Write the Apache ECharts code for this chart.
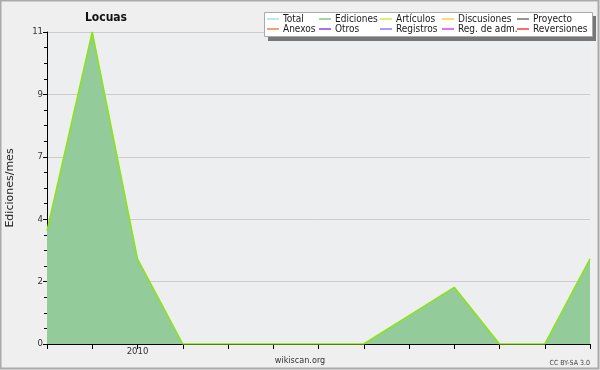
<!DOCTYPE html>
<html><head><meta charset="utf-8">
<script src="https://cdn.jsdelivr.net/npm/echarts@6/dist/echarts.min.js"></script>
<style>html,body{margin:0;padding:0;background:#efefef}#c{width:600px;height:370px}</style>
</head><body><div id="c"></div>
<script>
const months = ['2009-11','2009-12','2010-01','2010-02','2010-03','2010-04','2010-05','2010-06','2010-07','2010-08','2010-09','2010-10','2010-11'];
const ediciones = [4, 11, 3, 0, 0, 0, 0, 0, 1, 2, 0, 0, 3];
const yTicks = [0, 2.2, 4.4, 6.6, 8.8, 11];
const legendNames = [['Total','Anexos'],['Ediciones','Otros'],['Artículos','Registros'],['Discusiones','Reg. de adm.'],['Proyecto','Reversiones']];
const legendColors = {'Total':'#a0e4e4','Anexos':'#f08040','Ediciones':'#80c880','Otros':'#9040e0','Artículos':'#c8f040','Registros':'#8080ff','Discusiones':'#f8d040','Reg. de adm.':'#e040f0','Proyecto':'#707070','Reversiones':'#f04040'};
const colLeft = [267, 319, 380, 442, 517];
const FONT = '"DejaVu Sans Condensed", "DejaVu Sans", sans-serif';

const chart = echarts.init(document.getElementById('c'), null, {renderer:'canvas'});
const series = [];
const allNames = ['Total','Ediciones','Artículos','Discusiones','Proyecto','Anexos','Otros','Registros','Reg. de adm.','Reversiones'];
allNames.forEach(n => {
  if (n === 'Ediciones') {
    series.push({name:n, type:'line', data:ediciones, symbol:'none', color:legendColors[n],
      lineStyle:{width:0, color:'#93cb9a'}, areaStyle:{color:'#93cb9a', opacity:1}, z:2, silent:true});
  } else if (n === 'Artículos') {
    series.push({name:n, type:'line', data:ediciones, symbol:'none', color:legendColors[n],
      lineStyle:{width:1.5, color:'#8ce410'}, z:3, silent:true});
  } else {
    series.push({name:n, type:'line', data:[], symbol:'none', color:legendColors[n]});
  }
});
const legends = legendNames.map((pair,i) => ({
  orient:'vertical', left:colLeft[i], top:14, itemGap:0, itemWidth:12, itemHeight:10,
  icon:'path://M0,4.5h12v1.5h-12z', selectedMode:false,
  data: pair.map(n => ({name:n, itemStyle:{color:legendColors[n]}})),
  textStyle:{fontFamily:FONT, fontSize:10, color:'#1a1a1a', lineHeight:10, padding:[0,0,0,-1]},
  padding:0, z:10
}));
chart.setOption({
  animation:false,
  backgroundColor:'#efefef',
  title:{text:'Locuas', left:101, textAlign:'center', top:7, textStyle:{fontFamily:FONT, fontWeight:'bold', fontSize:12, color:'#111'}},
  legend: legends,
  grid:{left:47, right:10, top:32, bottom:26, show:true, backgroundColor:'#edeef0', borderWidth:0, containLabel:false, outerBoundsMode:'none'},
  xAxis:{type:'category', data:months, boundaryGap:false,
    axisLine:{lineStyle:{color:'#000', width:1}},
    axisTick:{show:true, interval:0, length:5, lineStyle:{color:'#000'}},
    axisLabel:{interval:0, fontFamily:FONT, fontSize:9.5, color:'#333', margin:3,
      formatter:v => v === '2010-01' ? '2010' : ''},
    splitLine:{show:false}},
  yAxis:{type:'value', min:0, max:11, interval:2.2,
    name:'Ediciones/mes', nameLocation:'middle', nameGap:31, nameRotate:90,
    nameTextStyle:{fontFamily:'DejaVu Sans', fontSize:11, color:'#222'},
    axisLine:{show:true, lineStyle:{color:'#000', width:1}},
    axisTick:{show:true, length:4, lineStyle:{color:'#000'}},
    minorTick:{show:true, splitNumber:4, length:3, lineStyle:{color:'#000'}},
    axisLabel:{fontFamily:FONT, fontSize:9.5, color:'#333', margin:4,
      formatter:v => String(Math.round(v))},
    splitLine:{show:true, lineStyle:{color:'#cccccc', width:1}}},
  series: series,
  graphic:[
    {type:'rect', shape:{x:0.5,y:0.5,width:598,height:368}, style:{fill:'none', stroke:'#aaaaaa', lineWidth:2}, z:100, silent:true},
    {type:'rect', shape:{x:268,y:16,width:328,height:25}, style:{fill:'#777'}, z:5, silent:true},
    {type:'rect', shape:{x:264.5,y:12.5,width:328,height:24}, style:{fill:'#ffffff', stroke:'#aaaaaa', lineWidth:1}, z:6, silent:true},
    {type:'text', x:300, y:361, style:{text:'wikiscan.org', fontFamily:FONT, fontSize:9, fill:'#333', align:'center', verticalAlign:'middle'}, z:10},
    {type:'text', x:590, y:363, style:{text:'CC BY-SA 3.0', fontFamily:FONT, fontSize:7, fill:'#444', align:'right', verticalAlign:'middle'}, z:10}
  ]
});
</script></body></html>
